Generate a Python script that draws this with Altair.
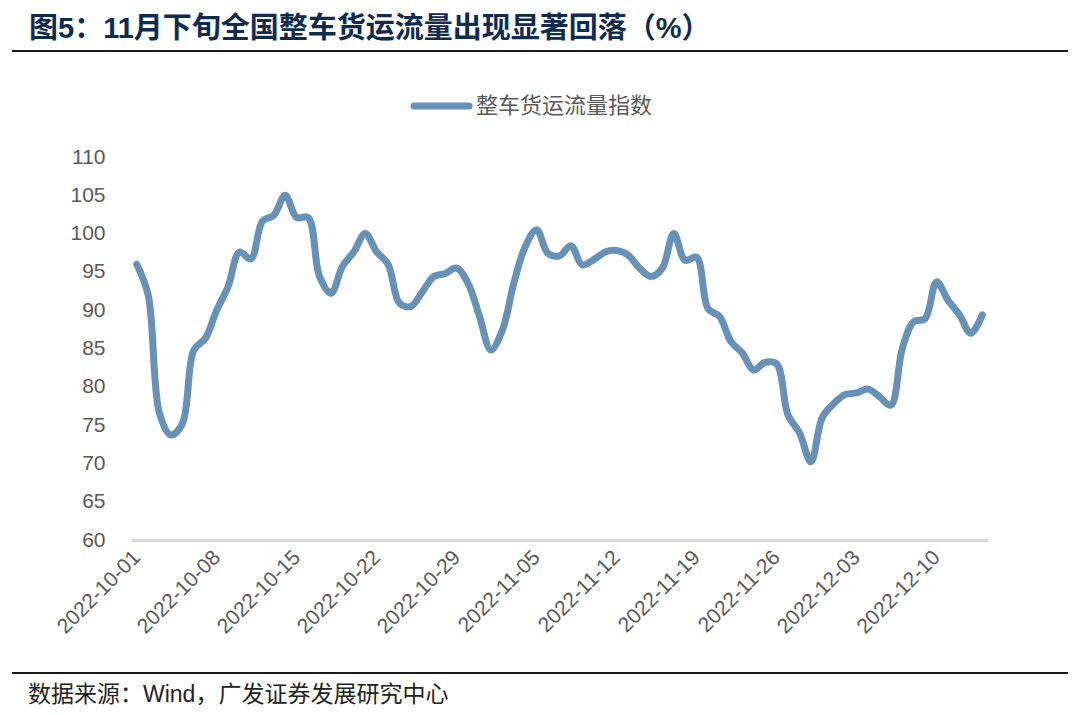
import altair as alt
import pandas as pd

# ---- data ----
dates = pd.date_range("2022-10-01", "2022-12-14").strftime("%Y-%m-%d").tolist()
values = [96.0, 92.0, 76.5, 73.7, 75.2, 84.8, 86.3, 90.0, 93.1, 97.6,
          96.7, 101.6, 102.4, 105.0, 102.1, 102.1, 94.4, 92.2, 95.7, 97.6,
          100.0, 97.6, 96.0, 90.9, 90.5, 92.4, 94.4, 94.8, 95.5, 93.5,
          89.2, 84.8, 87.4, 93.5, 98.3, 100.5, 97.4, 97.1, 98.4, 95.9,
          96.6, 97.6, 97.8, 97.2, 95.5, 94.4, 95.5, 100.0, 96.5, 96.9,
          90.2, 89.2, 85.9, 84.4, 82.2, 83.2, 83.0, 76.3, 74.0, 70.2,
          76.0, 77.8, 79.0, 79.2, 79.7, 78.7, 77.6, 85.0, 88.5, 88.9,
          93.7, 91.3, 89.4, 87.0, 89.4]
tick_labels = ["2022-10-01", "2022-10-08", "2022-10-15", "2022-10-22", "2022-10-29",
               "2022-11-05", "2022-11-12", "2022-11-19", "2022-11-26", "2022-12-03",
               "2022-12-10"]
y_ticks = [60, 65, 70, 75, 80, 85, 90, 95, 100, 105, 110]
series_name = "整车货运流量指数"
title_text = "图5：11月下旬全国整车货运流量出现显著回落（%）"
source_text = "数据来源：Wind，广发证券发展研究中心"

df = pd.DataFrame({"date": dates, "value": values})
one = pd.DataFrame({"k": [0]})

LINE_COLOR = "#6891B7"
W, H = 857, 383

line = alt.Chart(df).mark_line(
    color=LINE_COLOR, strokeWidth=7, interpolate="catmull-rom", strokeCap="round", strokeJoin="round"
).encode(
    x=alt.X("date:O", sort=None, title=None,
            scale=alt.Scale(type="point", padding=0.5),
            axis=alt.Axis(values=tick_labels, labelAngle=-45, labelAlign="right",
                          labelBaseline="middle", labelPadding=14, labelFontSize=21,
                          labelFont="Liberation Sans", labelColor="#595959",
                          ticks=False, grid=False, domainColor="#D9D9D9", domainWidth=3)),
    y=alt.Y("value:Q", title=None,
            scale=alt.Scale(domain=[60, 110], nice=False, zero=False),
            axis=alt.Axis(values=y_ticks, labelFontSize=21, labelFont="Liberation Sans",
                          labelColor="#595959", ticks=False, domain=False, grid=False,
                          labelPadding=26))
)

title = alt.Chart(one).mark_text(
    text=title_text, align="left", baseline="middle", fontSize=29, fontWeight="bold",
    font="Liberation Sans, Noto Sans CJK SC", color="#0F2B50"
).encode(x=alt.value(-102), y=alt.value(-128))

top_rule = alt.Chart(one).mark_rule(color="#1a1a1a", strokeWidth=2).encode(
    x=alt.value(-119), x2=alt.value(937), y=alt.value(-106))

bottom_rule = alt.Chart(one).mark_rule(color="#1a1a1a", strokeWidth=2).encode(
    x=alt.value(-119), x2=alt.value(937), y=alt.value(516))

source = alt.Chart(one).mark_text(
    text=source_text, align="left", baseline="middle", fontSize=23,
    font="Liberation Sans, Noto Sans CJK SC", color="#222222"
).encode(x=alt.value(-103), y=alt.value(538))

legend_sym = alt.Chart(one).mark_rule(color=LINE_COLOR, strokeWidth=7, strokeCap="round").encode(
    x=alt.value(283), x2=alt.value(338), y=alt.value(-51))

legend_txt = alt.Chart(one).mark_text(
    text=series_name, align="left", baseline="middle", fontSize=22,
    font="Noto Sans CJK SC", color="#595959"
).encode(x=alt.value(345), y=alt.value(-51))

chart = alt.layer(line, title, top_rule, bottom_rule, source, legend_sym, legend_txt).properties(
    width=W, height=H,
    autosize=alt.AutoSizeParams(type="none"),
    padding={"left": 123, "top": 149, "right": 84, "bottom": 167},
    background="white"
).configure_view(stroke=None)

chart.save("out.html", embed_options={"renderer": "svg", "actions": False})
